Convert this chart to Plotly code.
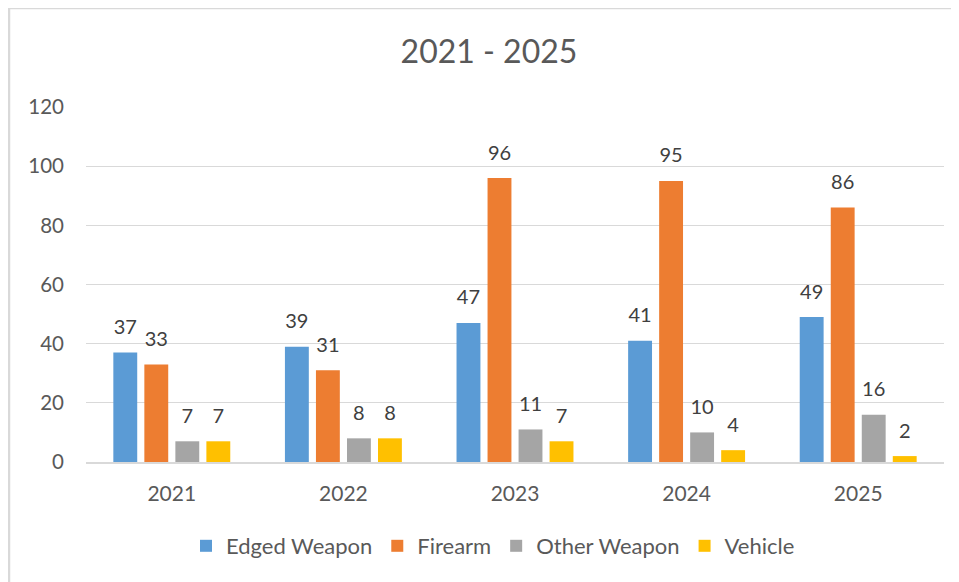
import plotly.graph_objects as go

years = ["2021", "2022", "2023", "2024", "2025"]
edged = [37, 39, 47, 41, 49]
firearm = [33, 31, 96, 95, 86]
other = [7, 8, 11, 10, 16]
vehicle = [7, 8, 7, 4, 2]

series = [
    ("Edged Weapon", edged, "#5b9bd5"),
    ("Firearm", firearm, "#ed7d31"),
    ("Other Weapon", other, "#a5a5a5"),
    ("Vehicle", vehicle, "#ffc000"),
]

W, H = 959, 582
OFF = 8  # page body margin
# target plot area in screenshot pixels
PL, PR, PT, PB = 86, 944, 107, 462
L, T = PL - OFF, PT - OFF
R = W - (PR - OFF)
B = H - (PB - OFF)
pw, ph = W - L - R, H - T - B

def px(x):
    return (x - OFF - L) / pw

def py(y):
    return (H - B - (y - OFF)) / ph

fig = go.Figure()
for name, vals, col in series:
    fig.add_trace(go.Bar(
        x=years, y=vals, name=name, marker_color=col, marker_line_width=0,
    ))
for name, vals, col in series:
    fig.add_trace(go.Scatter(
        x=years, y=vals, mode="markers+text", text=[str(v) for v in vals],
        textposition="top center", showlegend=False, hoverinfo="skip",
        marker=dict(size=20, opacity=0), cliponaxis=False,
        textfont=dict(size=20, color="#404040", family="Lato"),
    ))

# chart-area border (top and left edges visible)
fig.add_shape(type="line", xref="paper", yref="paper",
              x0=px(8), x1=px(960), y0=py(8), y1=py(8),
              line=dict(color="#d9d9d9", width=2.5))
fig.add_shape(type="line", xref="paper", yref="paper",
              x0=px(9), x1=px(9), y0=py(8), y1=py(590),
              line=dict(color="#d9d9d9", width=2.5))

fig.update_layout(
    width=W, height=H,
    margin=dict(l=L, r=R, t=T, b=B),
    paper_bgcolor="white", plot_bgcolor="white",
    font=dict(family="Lato, 'Open Sans', sans-serif", color="#595959"),
    title=dict(text="2021 - 2025", x=px(489), xanchor="center", xref="paper",
               y=1 - (52 - OFF) / H, yanchor="middle",
               font=dict(size=32, color="#595959")),
    barmode="group", bargap=0.277, bargroupgap=0.23,
    scattermode="group", scattergap=0.277,
    showlegend=True,
    legend=dict(orientation="h", x=px(493), xanchor="center", y=py(546), yanchor="middle",
                font=dict(size=22, color="#595959"), itemwidth=30, traceorder="normal"),
    xaxis=dict(showgrid=False, showline=True, linecolor="#d9d9d9", linewidth=2,
               tickfont=dict(size=21, color="#595959"), ticks="", ticklabelstandoff=12),
    yaxis=dict(range=[0, 120], dtick=20, showgrid=True, gridcolor="#d9d9d9", gridwidth=1,
               zeroline=False, showline=False,
               tickfont=dict(size=20.5, color="#595959"), ticks="", ticklabelstandoff=21),
)

fig.write_html("out.html")
